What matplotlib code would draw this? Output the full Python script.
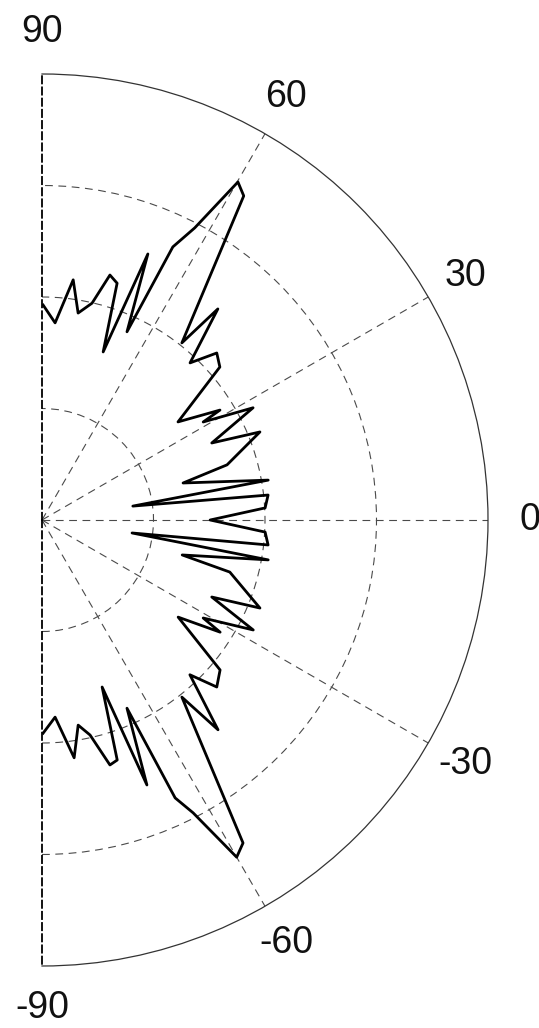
import numpy as np
import matplotlib
matplotlib.use("Agg")
import matplotlib.pyplot as plt

# Trace of the pattern, from +90 deg down to -90 deg (angle in degrees, normalized radius)
angle_deg = [89.7, 86.2, 82.6, 80.1, 77.0, 74.5, 72.4, 70.0, 68.3, 65.7, 64.4, 62.4,
             59.9, 58.1, 51.7, 50.2, 46.7, 43.7, 40.7, 35.8, 31.7, 31.3, 28.0, 24.4,
             22.0, 16.6, 14.7, 10.0, 8.7, 6.3, 3.1, 0.0,
             -3.1, -6.3, -8.2, -10.0, -14.0, -15.5, -22.0, -24.4, -27.5, -31.3, -32.2,
             -35.5, -40.1, -43.7, -46.3, -50.0, -51.7, -58.1, -60.0, -62.7, -64.4,
             -65.7, -68.4, -70.2, -72.6, -74.5, -77.4, -80.0, -82.3, -86.2, -89.7]
radius = [0.482, 0.443, 0.543, 0.471, 0.499, 0.570, 0.557, 0.401, 0.642, 0.463, 0.679, 0.739,
          0.876, 0.856, 0.506, 0.616, 0.484, 0.542, 0.526, 0.376, 0.469, 0.423, 0.536, 0.418,
          0.527, 0.433, 0.327, 0.515, 0.206, 0.510, 0.501, 0.377,
          0.501, 0.510, 0.204, 0.515, 0.324, 0.437, 0.527, 0.418, 0.534, 0.423, 0.472,
          0.375, 0.522, 0.542, 0.480, 0.614, 0.506, 0.853, 0.873, 0.739, 0.691,
          0.463, 0.639, 0.398, 0.564, 0.570, 0.494, 0.467, 0.538, 0.443, 0.478]

theta_ticks = [90, 60, 30, 0, -30, -60, -90]
theta_labels = ["90", "60", "30", "0", "-30", "-60", "-90"]
r_rings = [0.25, 0.5, 0.75]

plt.rcParams['font.family'] = ['Liberation Sans', 'DejaVu Sans']

fig = plt.figure(figsize=(5.39, 10.28), dpi=100)
ax = fig.add_axes([-181/539, 62/1028, 892/539, 892/1028], projection='polar')
ax.set_thetamin(-90)
ax.set_thetamax(90)
ax.set_rlim(0, 1)

grid_color = '#4a4a4a'
dash = (0, (7, 5))
ax.set_rticks(r_rings)
ax.set_yticklabels([])
ax.set_thetagrids([t for t in theta_ticks if abs(t) != 90], labels=[])
ax.xaxis.grid(True, color=grid_color, linestyle=dash, linewidth=0.8)
ax.yaxis.grid(True, color=grid_color, linestyle=dash, linewidth=0.8)

ax.spines['polar'].set_linewidth(0.9)
ax.spines['polar'].set_color('#333333')
for s in ('start', 'end'):
    ax.spines[s].set_linestyle((0, (4, 2.2)))
    ax.spines[s].set_linewidth(1.3)
    ax.spines[s].set_color('black')
ax.spines['inner'].set_visible(False)
ax.tick_params(axis='both', length=0)

ax.plot(np.deg2rad(angle_deg), radius, color='black', linewidth=2.0,
        solid_joinstyle='round', zorder=5)

for t, lab in zip(theta_ticks, theta_labels):
    ax.text(np.deg2rad(t), 1.095, lab, ha='center', va='center', fontsize=27,
            color='#111111', transform=ax.transData, clip_on=False)

fig.savefig('out.png', dpi=100)
